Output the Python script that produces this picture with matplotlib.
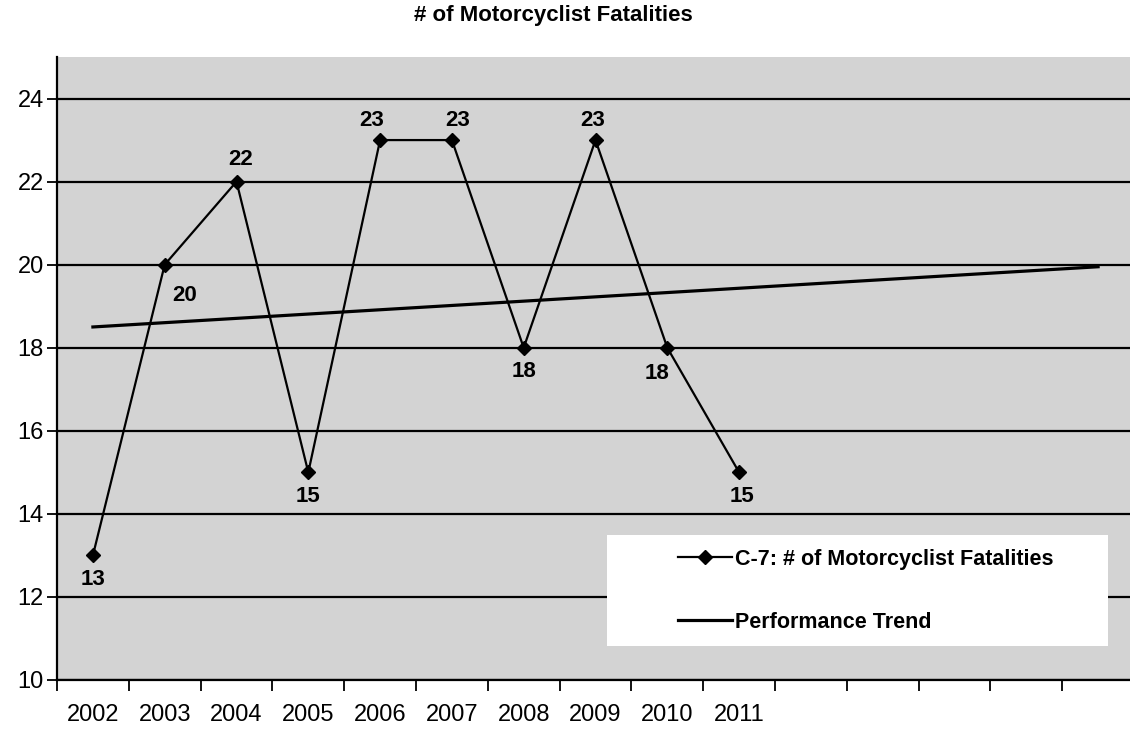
import matplotlib
matplotlib.use("Agg")
import matplotlib.pyplot as plt
from matplotlib.patches import Rectangle
from matplotlib.lines import Line2D

# ---- data ----
years = [2002, 2003, 2004, 2005, 2006, 2007, 2008, 2009, 2010, 2011]
fatalities = [13, 20, 22, 15, 23, 23, 18, 23, 18, 15]
trend_years = [2002, 2016]
trend_values = [18.5, 19.95]
n_categories = 15          # category axis runs 2002..2016, only 2002..2011 labelled
y_ticks = [10, 12, 14, 16, 18, 20, 22, 24]
title = "# of Motorcyclist Fatalities"
series_label = "C-7: # of Motorcyclist Fatalities"
trend_label = "Performance Trend"

# label placement per point (offset in pixels)
label_offsets = [(0, -24), (20, -31), (4, 22), (0, -24), (-8, 20),
                 (6, 20), (0, -24), (-3, 20), (-10, -26), (3, -24)]

plt.rcParams['font.family'] = ['Liberation Sans', 'DejaVu Sans']

fig = plt.figure(figsize=(11.30, 7.33), dpi=100)
ax = fig.add_axes([57 / 1130, (733 - 680) / 733, 1077 / 1130, 623 / 733])
ax.set_facecolor('#d3d3d3')

xs = [y - years[0] for y in years]
txs = [y - years[0] for y in trend_years]

for yv in y_ticks:
    ax.axhline(yv, color='black', lw=1.6, zorder=1)

ax.plot(xs, fatalities, color='black', lw=1.6, marker='D', markersize=7,
        zorder=4)
ax.plot(txs, trend_values, color='black', lw=2.3, zorder=3)

for x, v, off in zip(xs, fatalities, label_offsets):
    ax.annotate(str(v), (x, v), xytext=off, textcoords='offset pixels',
                ha='center', va='center', fontsize=16, fontweight='bold',
                zorder=5)

ax.set_xlim(-0.5, n_categories - 0.5)
ax.set_ylim(10, 25)
ax.set_yticks(y_ticks)
ax.set_yticklabels([str(v) for v in y_ticks], fontsize=17)
ax.tick_params(axis='y', length=7, width=1.3, pad=2.5, direction='out')

ax.set_xticks(xs)
ax.set_xticklabels([str(y) for y in years], fontsize=17)
ax.set_xticks([i - 0.5 for i in range(n_categories + 1)], minor=True)
ax.tick_params(axis='x', which='major', length=0, pad=17)
ax.tick_params(axis='x', which='minor', length=8, width=1.3, direction='out')

for s in ['top', 'right']:
    ax.spines[s].set_visible(False)
for s in ['left', 'bottom']:
    ax.spines[s].set_linewidth(1.6)
    ax.spines[s].set_color('black')

# legend box
ax.add_patch(Rectangle((0.511, 0.055), 0.465, 0.178, transform=ax.transAxes,
                       facecolor='white', edgecolor='none', zorder=6))
handles = [Line2D([], [], color='black', lw=1.6, marker='D', markersize=7),
           Line2D([], [], color='black', lw=2.3)]
leg = ax.legend(handles, [series_label, trend_label], loc='upper left',
                bbox_to_anchor=(0.577, 0.211), frameon=False,
                prop={'size': 15.5, 'weight': 'bold'}, handlelength=2.5,
                handletextpad=0.15, labelspacing=1.95, borderpad=0,
                borderaxespad=0)
leg.set_zorder(7)

fig.text(553 / 1130, 1 - 16 / 733, title, ha='center', va='center',
         fontsize=16, fontweight='bold')

fig.savefig('out.png', dpi=100)
